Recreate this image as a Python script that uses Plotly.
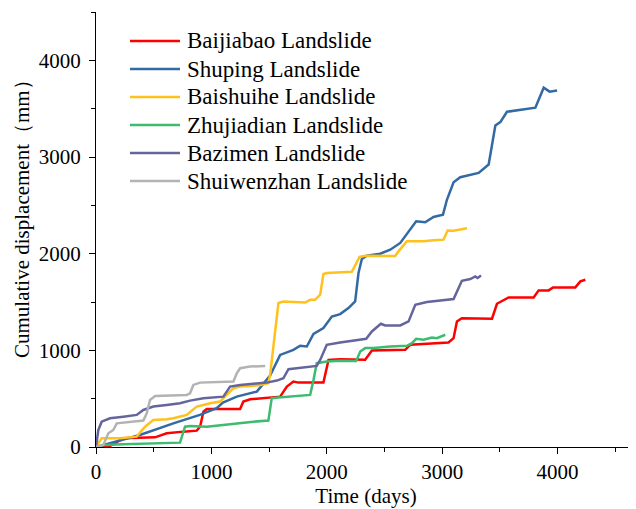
import plotly.graph_objects as go

# data (days, mm)
baijiabao_t = [0, 63, 121, 237, 512, 613, 757, 873, 902, 931, 960, 1249, 1277, 1336, 1596, 1654, 1711, 1755,
               1971, 2015, 2116, 2333, 2391, 2680, 2723, 3055, 3099, 3128, 3171, 3432, 3475, 3576, 3793,
               3836, 3923, 3961, 4154, 4198, 4241]
baijiabao_d = [0, 0, 10, 90, 100, 142, 159, 169, 210, 366, 394, 394, 470, 494, 521, 625, 677, 666,
               666, 901, 909, 902, 998, 1005, 1057, 1081, 1126, 1299, 1333, 1327, 1482, 1547, 1547,
               1620, 1620, 1651, 1651, 1713, 1730]

shuping_t = [0, 120, 380, 670, 900, 1046, 1100, 1220, 1394, 1509, 1596, 1711, 1769, 1827, 1885, 1971,
             2044, 2116, 2188, 2246, 2275, 2304, 2348, 2463, 2550, 2637, 2775, 2853, 2925, 3007, 3042,
             3099, 3157, 3316, 3403, 3461, 3504, 3562, 3808, 3880, 3931, 3996]
shuping_d = [0, 38, 124, 245, 332, 401, 460, 521, 573, 740, 953, 1005, 1047, 1040, 1171, 1230,
             1350, 1375, 1437, 1506, 1800, 1945, 1979, 2000, 2041, 2111, 2335, 2325, 2380, 2404, 2560,
             2739, 2791, 2836, 2922, 3326, 3361, 3468, 3510, 3717, 3676, 3689]

baishuihe_t = [0, 49, 208, 353, 425, 497, 613, 670, 786, 873, 931, 989, 1075, 1133, 1191, 1249, 1350,
               1422, 1494, 1509, 1538, 1567, 1581, 1624, 1813, 1856, 1899, 1943, 1971, 2000, 2217, 2284,
               2333, 2593, 2622, 2694, 2839, 2925, 3012, 3047, 3099, 3215]
baishuihe_d = [0, 90, 90, 107, 210, 280, 287, 297, 332, 418, 435, 453, 470, 539, 608, 625, 630,
               642, 660, 746, 1040, 1300, 1489, 1504, 1495, 1523, 1523, 1575, 1790, 1800, 1813, 1966,
               1979, 1975, 2024, 2128, 2128, 2138, 2145, 2240, 2238, 2262]

zhujiadian_t = [0, 63, 237, 526, 728, 772, 815, 960, 1104, 1249, 1364, 1494, 1523, 1581, 1856, 1885,
                1913, 2000, 2116, 2255, 2290, 2333, 2405, 2550, 2694, 2738, 2775, 2839, 2911, 2954, 3027]
zhujiadian_d = [0, 21, 28, 38, 45, 210, 218, 210, 228, 252, 262, 273, 505, 511, 539, 694,
                867, 884, 891, 890, 988, 1023, 1023, 1040, 1047, 1074, 1119, 1109, 1133, 1126, 1161]

bazimen_t = [0, 20, 49, 121, 237, 353, 410, 497, 613, 728, 815, 931, 1104, 1162, 1249, 1364, 1480,
             1567, 1624, 1668, 1740, 1913, 1943, 2000, 2116, 2232, 2342, 2391, 2469, 2506, 2637, 2709,
             2767, 2868, 3099, 3171, 3244, 3287, 3307, 3337]
bazimen_d = [0, 176, 262, 297, 314, 332, 383, 418, 435, 453, 480, 505, 521, 625, 642, 653, 666,
             687, 711, 805, 815, 839, 901, 1057, 1081, 1098, 1119, 1195, 1275, 1257, 1257, 1299,
             1472, 1500, 1531, 1720, 1738, 1765, 1748, 1775]

shuiwenzhan_t = [0, 63, 107, 150, 180, 237, 353, 410, 440, 468, 512, 613, 786, 815, 844, 902, 1162,
                 1191, 1220, 1249, 1336, 1466]
shuiwenzhan_d = [0, 21, 142, 176, 245, 252, 262, 273, 349, 487, 528, 532, 539, 556, 642, 666, 670,
                 677, 763, 815, 832, 839]

series = [
    ("Baijiabao Landslide", baijiabao_t, baijiabao_d, "#ff0000"),
    ("Shuping Landslide", shuping_t, shuping_d, "#336aa3"),
    ("Baishuihe Landslide", baishuihe_t, baishuihe_d, "#ffc11e"),
    ("Zhujiadian Landslide", zhujiadian_t, zhujiadian_d, "#3dbb6e"),
    ("Bazimen Landslide", bazimen_t, bazimen_d, "#65659e"),
    ("Shuiwenzhan Landslide", shuiwenzhan_t, shuiwenzhan_d, "#b3b3b3"),
]

# the page body has an 8px margin, so the figure is sized/offset to compensate
OFF = 8
W, H = 636 - OFF, 509 - OFF
ML, MR, MT, MB = 96 - OFF, 0, 12 - OFF, 62
pw, ph = W - ML - MR, H - MT - MB
SERIF = "Liberation Serif, Times New Roman, serif"


def px_x(x):  # window pixel -> paper x
    return (x - OFF - ML) / pw


def px_y(y):  # window pixel -> paper y
    return (H - MB - (y - OFF)) / ph


fig = go.Figure()
for name, t, d, col in series:
    fig.add_trace(go.Scatter(x=t, y=d, name=name, mode="lines", showlegend=False,
                             line=dict(color=col, width=2.5)))

# legend drawn by hand so the row spacing can be tight like the original
for i, (name, t, d, col) in enumerate(series):
    yp = px_y(41 + 28 * i)
    fig.add_shape(type="line", xref="paper", yref="paper",
                  x0=px_x(130), x1=px_x(180), y0=yp, y1=yp,
                  line=dict(color=col, width=2.5))
    fig.add_annotation(text=name, xref="paper", yref="paper", x=px_x(185), y=yp,
                       xanchor="left", yanchor="middle", showarrow=False,
                       font=dict(family=SERIF, size=23, color="black"))

# y axis title
fig.add_annotation(text="Cumulative displacement（mm）", xref="paper", yref="paper",
                   x=px_x(22), y=px_y(214), textangle=-90, showarrow=False,
                   xanchor="center", yanchor="middle",
                   font=dict(family=SERIF, size=21, color="black"))

axis_common = dict(
    showgrid=False, zeroline=False, showline=True, linecolor="black", linewidth=1,
    ticks="outside", ticklen=6, tickcolor="black", tickwidth=1, automargin=False,
    tickfont=dict(family=SERIF, size=21, color="black"),
    minor=dict(ticks="outside", ticklen=4, dtick=500, tickcolor="black"),
)

fig.update_layout(
    width=W, height=H,
    margin=dict(l=ML, r=MR, t=MT, b=MB),
    paper_bgcolor="white", plot_bgcolor="white",
    font=dict(family=SERIF, color="black"),
    xaxis=dict(range=[0, 4680], dtick=1000,
               title=dict(text="Time (days)", font=dict(size=21), standoff=0),
               **axis_common),
    yaxis=dict(range=[0, 4500], dtick=1000, ticklabelstandoff=4, **axis_common),
    showlegend=False,
)

fig.write_html("out.html")
